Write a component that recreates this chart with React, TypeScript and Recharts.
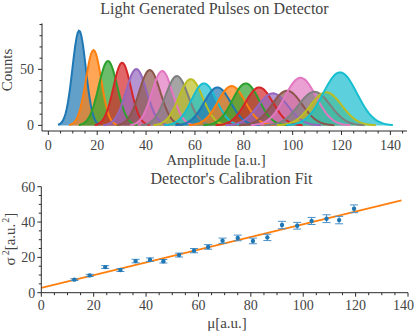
import React from 'react';
import { ComposedChart, Area, Line, XAxis, YAxis, Scatter, ErrorBar } from 'recharts';

const COLORS = ['#1f77b4', '#ff7f0e', '#2ca02c', '#d62728', '#9467bd', '#8c564b', '#e377c2', '#7f7f7f', '#bcbd22', '#17becf'];

// Gaussian fit parameters per pulse
const pulseMeans = [12.6, 18.5, 24.4, 30.2, 36.0, 41.5, 46.6, 52.6, 58.3, 63.7, 69.2, 75.0, 80.8, 86.3, 91.9, 97.7, 103.2, 108.9, 113.7, 119.4];
const pulseVariances = [7.4, 9.8, 14.5, 12.8, 17.9, 18.7, 17.8, 21.3, 23.8, 25.9, 29.4, 31.0, 29.3, 31.3, 38.3, 37.9, 40.6, 41.9, 41.1, 47.5];
const pulsePeaks = [84.5, 67.2, 57.4, 55.9, 50.3, 49.4, 48.5, 44.0, 41.3, 37.5, 33.9, 35.1, 37.5, 33.9, 28.6, 30.9, 42.5, 30.0, 29.5, 47.3];
const varianceErrors = [0.5, 0.6, 0.8, 0.8, 1.0, 1.0, 1.0, 1.1, 1.2, 1.3, 1.5, 1.6, 1.6, 1.8, 2.1, 1.9, 2.0, 2.2, 2.1, 2.2];

// Linear calibration fit endpoints
const fitMu = [0, 137.5];
const fitVar = [2.8, 52.3];

const topXTicks = [0, 5, 10, 15, 20, 25, 30, 35, 40, 45, 50, 55, 60, 65, 70, 75, 80, 85, 90, 95, 100, 105, 110, 115, 120, 125, 130, 135, 140, 145];
const topYTicks = [0, 10, 20, 30, 40, 50, 60, 70, 80, 90];
const botXTicks = [0, 5, 10, 15, 20, 25, 30, 35, 40, 45, 50, 55, 60, 65, 70, 75, 80, 85, 90, 95, 100, 105, 110, 115, 120, 125, 130, 135, 140];
const botYTicks = [0, 5, 10, 15, 20, 25, 30, 35, 40, 45, 50, 55, 60];

// Table of fitted curve values on an amplitude grid, built from the parameters above
const gridData: any[] = [];
for (let k = 0; k <= 290; k++) {
  const x = k * 0.5;
  const row: any = { x };
  pulseMeans.forEach((mu, i) => {
    const s = Math.sqrt(pulseVariances[i]);
    row['g' + i] = Math.abs(x - mu) <= 3.2 * s ? pulsePeaks[i] * Math.exp(-((x - mu) * (x - mu)) / (2 * pulseVariances[i])) : null;
  });
  gridData.push(row);
}

const calData = pulseMeans.map((mu, i) => ({ mu, s2: pulseVariances[i], err: varianceErrors[i] }));
const fitData = fitMu.map((mu, i) => ({ mu, s2: fitVar[i] }));

const FONT = '"Liberation Serif", "Times New Roman", serif';
const AX = '#2b2b2b';
const TXT = '#444';

const isMajor = (v: number, step: number) => Math.abs(v / step - Math.round(v / step)) < 1e-6;

const makeXTick = (step: number, dy: number, fs: number) => (props: any) => {
  const { x, y, payload } = props;
  const v = payload.value;
  const major = isMajor(v, step);
  const half = (String(v).length * fs * 0.5) / 2;
  const tx = Math.min(x, 414 - half);
  return (
    <g>
      <line x1={x} x2={x} y1={y} y2={y + (major ? 4 : 2.5)} stroke={AX} strokeWidth={1} />
      {major && (
        <text x={tx} y={y + dy} textAnchor="middle" fontFamily={FONT} fontSize={fs} fill={TXT}>
          {v}
        </text>
      )}
    </g>
  );
};

const makeYTick = (step: number, dx: number) => (props: any) => {
  const { x, y, payload } = props;
  const v = payload.value;
  const major = isMajor(v, step);
  return (
    <g>
      <line x1={x} x2={x - (major ? 4 : 2.5)} y1={y} y2={y} stroke={AX} strokeWidth={1} />
      {major && (
        <text x={x - dx} y={y + 5} textAnchor="end" fontFamily={FONT} fontSize={14} fill={TXT}>
          {v}
        </text>
      )}
    </g>
  );
};

const Dot = (props: any) => <circle cx={props.cx} cy={props.cy} r={2.2} fill="#1f77b4" />;

export default function App() {
  const series: any[] = [];
  pulseMeans.forEach((_, i) => {
    const c = COLORS[i % 10];
    series.push(
      <Area
        key={'a' + i}
        dataKey={'g' + i}
        type="linear"
        stroke="none"
        fill={c}
        fillOpacity={0.7}
        baseValue={0}
        connectNulls={false}
        isAnimationActive={false}
        dot={false}
        activeDot={false}
      />
    );
    series.push(
      <Line
        key={'l' + i}
        dataKey={'g' + i}
        type="linear"
        stroke={c}
        strokeWidth={2}
        dot={false}
        activeDot={false}
        connectNulls={false}
        isAnimationActive={false}
      />
    );
  });

  return (
    <div style={{ position: 'absolute', left: 0, top: 0, width: 415, height: 333, background: '#fff' }}>
      <div style={{ position: 'absolute', left: 0, top: 0 }}>
        <ComposedChart width={415} height={333} data={gridData} margin={{ top: 23.4, left: 41, right: 8, bottom: 201 }}>
          <XAxis
            type="number"
            dataKey="x"
            domain={[-2.6, 146.8]}
            allowDataOverflow
            ticks={topXTicks}
            interval={0}
            height={1}
            tickSize={0}
            tickMargin={0}
            tickLine={false}
            axisLine={{ stroke: AX, strokeWidth: 1 }}
            tick={makeXTick(20, 19, 14)}
          />
          <YAxis
            type="number"
            domain={[-5, 91]}
            allowDataOverflow
            ticks={topYTicks}
            interval={0}
            width={1}
            tickSize={0}
            tickMargin={0}
            tickLine={false}
            axisLine={{ stroke: AX, strokeWidth: 1 }}
            tick={makeYTick(50, 8)}
          />
          {series}
        </ComposedChart>
      </div>
      <div style={{ position: 'absolute', left: 0, top: 0 }}>
        <ComposedChart width={415} height={333} margin={{ top: 186.7, left: 40.3, right: 7, bottom: 39.3 }}>
          <XAxis
            type="number"
            dataKey="mu"
            domain={[0, 140]}
            allowDataOverflow
            ticks={botXTicks}
            interval={0}
            height={1}
            tickSize={0}
            tickMargin={0}
            tickLine={false}
            axisLine={{ stroke: AX, strokeWidth: 1 }}
            tick={makeXTick(20, 17, 14)}
          />
          <YAxis
            type="number"
            dataKey="s2"
            domain={[0, 60]}
            allowDataOverflow
            ticks={botYTicks}
            interval={0}
            width={1}
            tickSize={0}
            tickMargin={0}
            tickLine={false}
            axisLine={{ stroke: AX, strokeWidth: 1 }}
            tick={makeYTick(20, 6)}
          />
          <Line data={fitData} dataKey="s2" type="linear" stroke="#ff7f0e" strokeWidth={1.8} dot={false} activeDot={false} isAnimationActive={false} />
          <Scatter data={calData} dataKey="s2" fill="#1f77b4" shape={Dot} isAnimationActive={false}>
            <ErrorBar dataKey="err" direction="y" width={4} stroke="#4a90c8" strokeWidth={1} />
          </Scatter>
        </ComposedChart>
      </div>
      <svg width={415} height={333} style={{ position: 'absolute', left: 0, top: 0, pointerEvents: 'none' }}>
        <g fontFamily={FONT} fill={TXT}>
          <text x={214.5} y={14} textAnchor="middle" fontSize={16}>Light Generated Pulses on Detector</text>
          <text x={216} y={165} textAnchor="middle" fontSize={15}>Amplitude [a.u.]</text>
          <text transform="translate(12,70) rotate(-90)" textAnchor="middle" fontSize={15}>Counts</text>
          <text x={231.5} y={184} textAnchor="middle" fontSize={16}>Detector's Calibration Fit</text>
          <text transform="translate(15,239) rotate(-90)" textAnchor="middle" fontSize={15}>
            <tspan>σ</tspan>
            <tspan dx={2} dy={-6} fontSize={10}>2</tspan>
            <tspan dy={6}>[a.u.</tspan>
            <tspan dx={1} dy={-6} fontSize={10}>2</tspan>
            <tspan dy={6}>]</tspan>
          </text>
          <text x={227} y={328} textAnchor="middle" fontSize={15}>μ[a.u.]</text>
        </g>
      </svg>
    </div>
  );
}
